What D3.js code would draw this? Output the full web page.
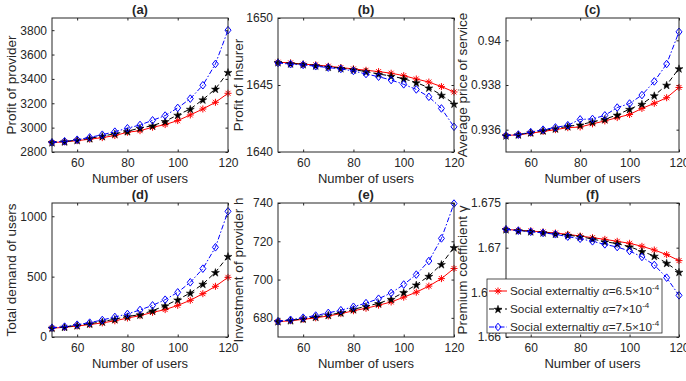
<!DOCTYPE html>
<html>
<head>
<meta charset="utf-8">
<script src="https://cdn.jsdelivr.net/npm/d3@7"></script>
<style>
  body { margin: 0; background: #fff; }
  svg text { font-family: "Liberation Sans", Arial, sans-serif; fill: #262626; }
  .title { font-weight: bold; font-size: 13px; }
</style>
</head>
<body>
<svg id="chart" width="686" height="381"></svg>
<script>
// number of users (x axis, shared by all panels)
var users = [50, 55, 60, 65, 70, 75, 80, 85, 90, 95, 100, 105, 110, 115, 120];

// (a) profit of provider
var provLow  = [2877, 2884, 2893, 2905, 2918, 2935, 2962, 2975, 3003, 3025, 3058, 3104, 3153, 3208, 3282];
var provMid  = [2879, 2886, 2897, 2912, 2930, 2950, 2970, 2997, 3016, 3052, 3104, 3153, 3230, 3318, 3455];
var provHigh = [2879, 2888, 2901, 2920, 2942, 2967, 2995, 3022, 3060, 3099, 3162, 3238, 3348, 3523, 3800];

// (b) profit of insurer
var insLow  = [1646.7, 1646.65, 1646.55, 1646.5, 1646.4, 1646.3, 1646.2, 1646.1, 1646.0, 1645.88, 1645.7, 1645.45, 1645.22, 1644.88, 1644.48];
var insMid  = [1646.7, 1646.6, 1646.55, 1646.45, 1646.35, 1646.25, 1646.15, 1646.0, 1645.82, 1645.67, 1645.47, 1645.18, 1644.8, 1644.25, 1643.6];
var insHigh = [1646.65, 1646.55, 1646.5, 1646.4, 1646.3, 1646.2, 1646.05, 1645.82, 1645.62, 1645.37, 1645.05, 1644.67, 1644.12, 1643.25, 1641.88];

// (c) average price of service
var priceLow  = [0.93574, 0.93577, 0.93584, 0.93592, 0.93600, 0.93609, 0.93612, 0.93626, 0.93639, 0.93654, 0.93668, 0.93695, 0.93718, 0.93743, 0.93789];
var priceMid  = [0.93574, 0.93578, 0.93587, 0.93596, 0.93605, 0.93615, 0.93622, 0.93635, 0.93647, 0.93666, 0.93692, 0.93715, 0.93753, 0.93800, 0.93874];
var priceHigh = [0.93574, 0.93578, 0.93589, 0.93600, 0.93610, 0.93620, 0.93646, 0.93648, 0.93664, 0.93699, 0.93717, 0.93755, 0.93816, 0.93894, 0.94038];

// (d) total demand of users
var demLow  = [73, 80, 91, 103, 117, 134, 157, 177, 204, 227, 262, 304, 359, 420, 494];
var demMid  = [75, 83, 96, 110, 127, 148, 170, 185, 218, 260, 309, 365, 439, 536, 669];
var demHigh = [77, 86, 102, 119, 141, 166, 191, 224, 262, 309, 370, 453, 566, 743, 1041];

// (e) investment of provider h
var invLow  = [678.0, 678.5, 679.2, 680.0, 681.0, 682.2, 683.7, 685.0, 686.6, 688.3, 690.8, 693.4, 696.6, 700.5, 705.8];
var invMid  = [678.2, 678.7, 679.5, 680.5, 681.5, 682.7, 684.5, 686.0, 687.6, 689.8, 693.3, 697.3, 701.8, 708.0, 716.8];
var invHigh = [678.2, 679.0, 680.1, 681.2, 682.6, 684.0, 685.8, 687.7, 690.0, 693.0, 697.4, 702.6, 709.7, 721.5, 739.7];

// (f) premium coefficient gamma
var premLow  = [1.67205, 1.67194, 1.67187, 1.67175, 1.67164, 1.67149, 1.67130, 1.67112, 1.67093, 1.67071, 1.67049, 1.67015, 1.66974, 1.66922, 1.66855];
var premMid  = [1.67205, 1.67192, 1.67182, 1.67170, 1.67155, 1.67140, 1.67123, 1.67097, 1.67067, 1.67045, 1.67011, 1.66959, 1.66907, 1.66828, 1.66728];
var premHigh = [1.67205, 1.67190, 1.67178, 1.67165, 1.67150, 1.67123, 1.67100, 1.67071, 1.67037, 1.67007, 1.66963, 1.66896, 1.66806, 1.66664, 1.66466];

var xTicks = [60, 80, 100, 120];
var alphaLabels = ["6.5", "7", "7.5"];

var panels = [
  {title: "(a)", ylabel: "Profit of provider", series: [provLow, provMid, provHigh],
   domain: [2800, 3900], ticks: [2800, 3000, 3200, 3400, 3600, 3800], fmt: d3.format("d"),
   box: [52, 18, 228, 152], labelX: 12},
  {title: "(b)", ylabel: "Profit of Insurer", series: [insLow, insMid, insHigh],
   domain: [1640, 1650], ticks: [1640, 1645, 1650], fmt: d3.format("d"),
   box: [278, 18, 454, 152], labelX: 239},
  {title: "(c)", ylabel: "Average price of service", series: [priceLow, priceMid, priceHigh],
   domain: [0.935, 0.941], ticks: [0.936, 0.938, 0.94], fmt: function(d) { return String(+d.toFixed(3)); },
   box: [506, 18, 679, 152], labelX: 463},
  {title: "(d)", ylabel: "Total demand of users", series: [demLow, demMid, demHigh],
   domain: [0, 1110], ticks: [0, 500, 1000], fmt: d3.format("d"),
   box: [52, 203, 228, 337], labelX: 12},
  {title: "(e)", ylabel: "Investment of provider h", series: [invLow, invMid, invHigh],
   domain: [670, 740], ticks: [680, 700, 720, 740], fmt: d3.format("d"),
   box: [278, 203, 454, 337], labelX: 239},
  {title: "(f)", ylabel: "Premium coefficient \u03b3", series: [premLow, premMid, premHigh],
   domain: [1.66, 1.675], ticks: [1.66, 1.665, 1.67, 1.675], fmt: function(d) { return String(+d.toFixed(3)); },
   box: [506, 203, 679, 337], labelX: 463}
];

var styles = [
  {color: "#ff0000", dash: null, marker: "asterisk"},
  {color: "#000000", dash: "5,3", marker: "star"},
  {color: "#0000ff", dash: "5,2,1.5,2", marker: "diamond"}
];

var svg = d3.select("#chart");

function drawMarker(g, type, color, x, y) {
  if (type === "asterisk") {
    var r = 3.5, q = r * 0.7071;
    g.append("path")
      .attr("d", "M" + (x - r) + "," + y + "H" + (x + r) +
                 "M" + x + "," + (y - r) + "V" + (y + r) +
                 "M" + (x - q) + "," + (y - q) + "L" + (x + q) + "," + (y + q) +
                 "M" + (x - q) + "," + (y + q) + "L" + (x + q) + "," + (y - q))
      .attr("stroke", color).attr("stroke-width", 1).attr("fill", "none");
  } else if (type === "star") {
    g.append("path")
      .attr("d", d3.symbol(d3.symbolStar, 20)())
      .attr("transform", "translate(" + x + "," + (y + 0.5) + ")")
      .attr("fill", color).attr("stroke", color).attr("stroke-width", 0.5);
  } else {
    var rx = 3, ry = 3.8;
    g.append("path")
      .attr("d", "M" + x + "," + (y - ry) + "L" + (x + rx) + "," + y + "L" + x + "," + (y + ry) + "L" + (x - rx) + "," + y + "Z")
      .attr("stroke", color).attr("stroke-width", 1).attr("fill", "none");
  }
}

panels.forEach(function(p) {
  var x0 = p.box[0], y0 = p.box[1], x1 = p.box[2], y1 = p.box[3];
  var x = d3.scaleLinear().domain([50, 120]).range([x0, x1]);
  var y = d3.scaleLinear().domain(p.domain).range([y1, y0]);
  var g = svg.append("g");

  g.append("rect").attr("x", x0).attr("y", y0).attr("width", x1 - x0).attr("height", y1 - y0)
    .attr("fill", "#fff");

  // inward ticks on all four sides, MATLAB style
  g.append("g").attr("transform", "translate(0," + y1 + ")")
    .call(d3.axisBottom(x).tickValues(xTicks).tickSize(-2.5).tickPadding(6).tickSizeOuter(0))
    .call(function(a) { a.select(".domain").remove(); a.selectAll("text").attr("font-size", 12).attr("font-family", null); a.selectAll("line").attr("stroke", "#262626"); });
  g.append("g").attr("transform", "translate(0," + y0 + ")")
    .call(d3.axisTop(x).tickValues(xTicks).tickSize(-2.5).tickFormat("").tickSizeOuter(0))
    .call(function(a) { a.select(".domain").remove(); a.selectAll("line").attr("stroke", "#262626"); });
  g.append("g").attr("transform", "translate(" + x0 + ",0)")
    .call(d3.axisLeft(y).tickValues(p.ticks).tickFormat(p.fmt).tickSize(-2.5).tickPadding(5).tickSizeOuter(0))
    .call(function(a) { a.select(".domain").remove(); a.selectAll("text").attr("font-size", 12).attr("font-family", null); a.selectAll("line").attr("stroke", "#262626"); });
  g.append("g").attr("transform", "translate(" + x1 + ",0)")
    .call(d3.axisRight(y).tickValues(p.ticks).tickFormat("").tickSize(-2.5).tickSizeOuter(0))
    .call(function(a) { a.select(".domain").remove(); a.selectAll("line").attr("stroke", "#262626"); });

  var clipId = "clip" + p.title.replace(/\W/g, "");
  g.append("clipPath").attr("id", clipId).append("rect")
    .attr("x", x0 - 5).attr("y", y0 - 5).attr("width", x1 - x0 + 10).attr("height", y1 - y0 + 10);
  var plot = g.append("g").attr("clip-path", "url(#" + clipId + ")");

  var line = d3.line().x(function(d, i) { return x(users[i]); }).y(function(d) { return y(d); });
  p.series.forEach(function(s, k) {
    var st = styles[k];
    plot.append("path").datum(s)
      .attr("d", line).attr("fill", "none").attr("stroke", st.color).attr("stroke-width", 1)
      .attr("stroke-dasharray", st.dash);
    s.forEach(function(v, i) { drawMarker(plot, st.marker, st.color, x(users[i]), y(v)); });
  });

  g.append("rect").attr("x", x0).attr("y", y0).attr("width", x1 - x0).attr("height", y1 - y0)
    .attr("fill", "none").attr("stroke", "#262626").attr("stroke-width", 1);

  g.append("text").attr("class", "title").attr("x", (x0 + x1) / 2).attr("y", y0 - 4)
    .attr("text-anchor", "middle").text(p.title);
  g.append("text").attr("x", (x0 + x1) / 2).attr("y", y1 + 31).attr("text-anchor", "middle")
    .attr("font-size", 13).text("Number of users");
  g.append("text").attr("transform", "translate(" + (p.labelX + 4) + "," + ((y0 + y1) / 2) + ") rotate(-90)")
    .attr("text-anchor", "middle").attr("font-size", 13.5).text(p.ylabel);
});

// legend inside panel (f)
var lg = svg.append("g");
lg.append("rect").attr("x", 487).attr("y", 279).attr("width", 175).attr("height", 54)
  .attr("fill", "#fff").attr("stroke", "#262626").attr("stroke-width", 0.8);
styles.forEach(function(st, k) {
  var ly = 291 + k * 18;
  lg.append("line").attr("x1", 489).attr("x2", 507).attr("y1", ly).attr("y2", ly)
    .attr("stroke", st.color).attr("stroke-width", 1).attr("stroke-dasharray", st.dash);
  drawMarker(lg, st.marker, st.color, 498, ly);
  var t = lg.append("text").attr("x", 510).attr("y", ly + 4).attr("font-size", 11.8);
  t.append("tspan").text("Social externaltiy ");
  t.append("tspan").attr("font-style", "italic").attr("font-family", "Liberation Serif, serif").text("\u03b1");
  t.append("tspan").text("=" + alphaLabels[k] + "\u00d710");
  t.append("tspan").attr("dy", -5).attr("font-size", 8).text("-4");
});
</script>
</body>
</html>
